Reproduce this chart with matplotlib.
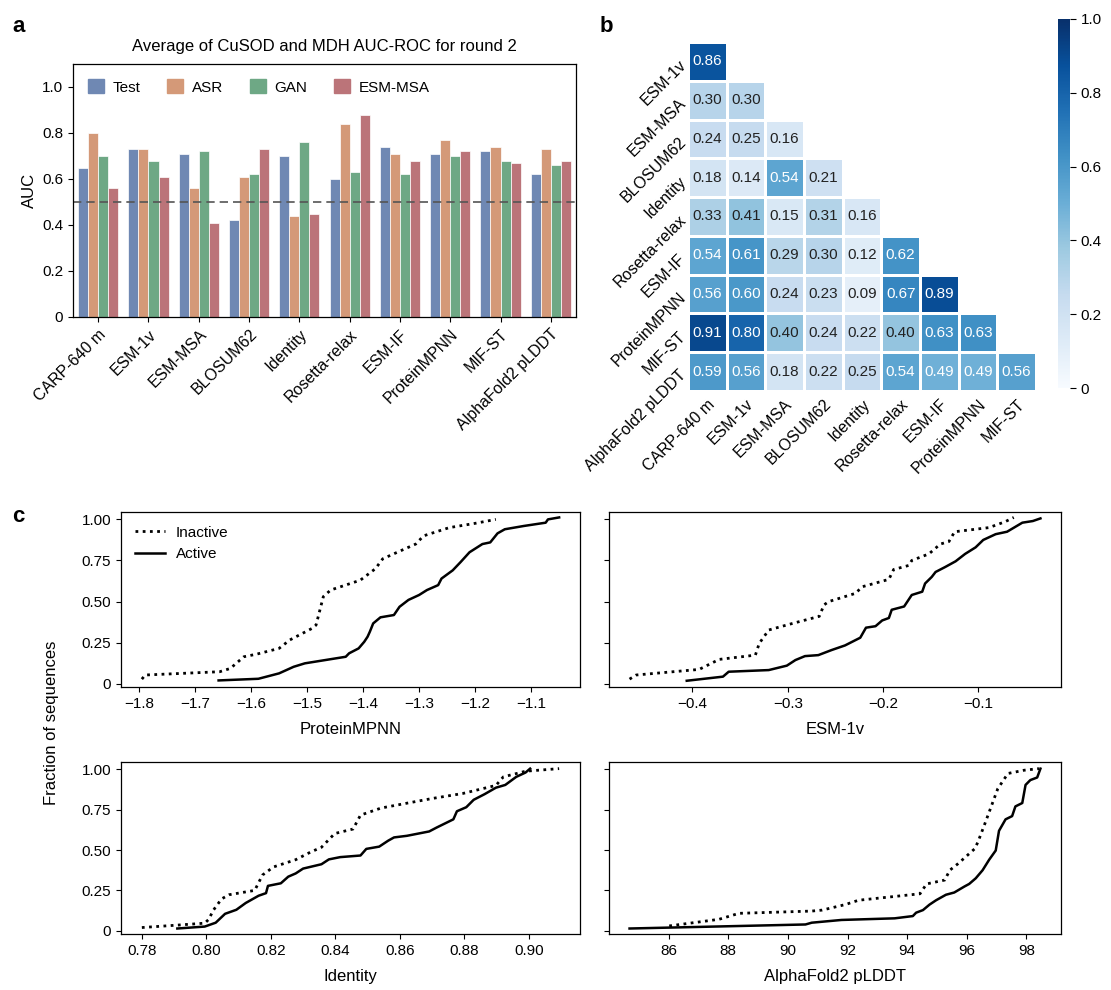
import numpy as np
import matplotlib
matplotlib.use("Agg")
import matplotlib.pyplot as plt
from matplotlib.patches import Patch
from matplotlib.lines import Line2D

plt.rcParams['font.family'] = ['Liberation Sans', 'DejaVu Sans']
plt.rcParams['font.size'] = 11

# ---- panel a data ----
methods = ['CARP-640 m', 'ESM-1v', 'ESM-MSA', 'BLOSUM62', 'Identity', 'Rosetta-relax',
           'ESM-IF', 'ProteinMPNN', 'MIF-ST', 'AlphaFold2 pLDDT']
groups = ['Test', 'ASR', 'GAN', 'ESM-MSA']
auc_test = [0.65, 0.73, 0.71, 0.42, 0.70, 0.60, 0.74, 0.71, 0.72, 0.62]
auc_asr = [0.80, 0.73, 0.56, 0.61, 0.44, 0.84, 0.71, 0.77, 0.74, 0.73]
auc_gan = [0.70, 0.68, 0.72, 0.62, 0.76, 0.63, 0.62, 0.70, 0.68, 0.66]
auc_esmmsa = [0.56, 0.61, 0.41, 0.73, 0.45, 0.88, 0.68, 0.72, 0.67, 0.68]
bar_colors = ['#6f88b3', '#d49978', '#6ea885', '#bb7479']

# ---- panel b data (lower triangle, row i has i values) ----
row_labels = ['ESM-1v', 'ESM-MSA', 'BLOSUM62', 'Identity', 'Rosetta-relax', 'ESM-IF',
              'ProteinMPNN', 'MIF-ST', 'AlphaFold2 pLDDT']
col_labels = ['CARP-640 m', 'ESM-1v', 'ESM-MSA', 'BLOSUM62', 'Identity', 'Rosetta-relax',
              'ESM-IF', 'ProteinMPNN', 'MIF-ST']
corr_rows = [
    [0.86],
    [0.30, 0.30],
    [0.24, 0.25, 0.16],
    [0.18, 0.14, 0.54, 0.21],
    [0.33, 0.41, 0.15, 0.31, 0.16],
    [0.54, 0.61, 0.29, 0.30, 0.12, 0.62],
    [0.56, 0.60, 0.24, 0.23, 0.09, 0.67, 0.89],
    [0.91, 0.80, 0.40, 0.24, 0.22, 0.40, 0.63, 0.63],
    [0.59, 0.56, 0.18, 0.22, 0.25, 0.54, 0.49, 0.49, 0.56],
]

# ---- panel c data ----
mpnn_inactive_x = [-1.795, -1.789, -1.656, -1.637, -1.613, -1.590, -1.550, -1.531, -1.491, -1.484,
                   -1.471, -1.458, -1.405, -1.378, -1.365, -1.339, -1.306, -1.292, -1.246, -1.200, -1.163]
mpnn_inactive_y = [0.028, 0.053, 0.073, 0.093, 0.164, 0.18, 0.215, 0.266, 0.337, 0.357,
                   0.53, 0.57, 0.63, 0.70, 0.76, 0.80, 0.85, 0.90, 0.95, 0.976, 1.0]
mpnn_active_x = [-1.658, -1.587, -1.550, -1.524, -1.504, -1.431, -1.425, -1.408, -1.398, -1.392,
                 -1.388, -1.382, -1.369, -1.345, -1.335, -1.319, -1.300, -1.286, -1.266, -1.260,
                 -1.240, -1.226, -1.210, -1.187, -1.173, -1.160, -1.147, -1.113, -1.074, -1.070, -1.050]
mpnn_active_y = [0.02, 0.03, 0.063, 0.103, 0.124, 0.164, 0.185, 0.215, 0.255, 0.286,
                 0.316, 0.367, 0.404, 0.418, 0.468, 0.51, 0.54, 0.57, 0.60, 0.64,
                 0.69, 0.74, 0.80, 0.85, 0.86, 0.915, 0.94, 0.96, 0.98, 1.0, 1.012]

esm_inactive_x = [-0.466, -0.459, -0.393, -0.372, -0.334, -0.330, -0.320, -0.295, -0.267, -0.262,
                  -0.257, -0.229, -0.222, -0.194, -0.189, -0.173, -0.170, -0.152, -0.140, -0.131,
                  -0.125, -0.089, -0.072, -0.063]
esm_inactive_y = [0.028, 0.053, 0.087, 0.148, 0.174, 0.245, 0.327, 0.367, 0.41, 0.48,
                  0.50, 0.55, 0.59, 0.635, 0.695, 0.72, 0.75, 0.79, 0.85, 0.865,
                  0.925, 0.95, 0.986, 1.012]
esm_active_x = [-0.406, -0.368, -0.362, -0.320, -0.301, -0.292, -0.282, -0.268, -0.254, -0.240,
                -0.224, -0.218, -0.208, -0.201, -0.194, -0.191, -0.178, -0.170, -0.159, -0.156,
                -0.149, -0.145, -0.135, -0.124, -0.114, -0.103, -0.095, -0.082, -0.070, -0.054,
                -0.043, -0.035]
esm_active_y = [0.018, 0.043, 0.073, 0.083, 0.11, 0.144, 0.168, 0.174, 0.205, 0.233,
                0.28, 0.341, 0.35, 0.385, 0.40, 0.45, 0.47, 0.54, 0.56, 0.61,
                0.65, 0.68, 0.71, 0.745, 0.79, 0.83, 0.875, 0.91, 0.925, 0.98,
                0.99, 1.006]

ident_inactive_x = [0.780, 0.791, 0.7995, 0.8007, 0.8022, 0.8047, 0.807, 0.815, 0.8174, 0.8208,
                    0.8277, 0.8323, 0.8357, 0.8398, 0.8455, 0.8478, 0.8542, 0.8622, 0.8703, 0.8795,
                    0.8898, 0.8921, 0.899, 0.9094]
ident_inactive_y = [0.02, 0.035, 0.047, 0.07, 0.128, 0.197, 0.223, 0.25, 0.345, 0.395,
                    0.44, 0.487, 0.517, 0.602, 0.63, 0.716, 0.76, 0.79, 0.82, 0.85,
                    0.90, 0.953, 0.988, 1.004]
ident_active_x = [0.791, 0.7995, 0.8029, 0.8058, 0.8093, 0.8122, 0.8162, 0.8185, 0.8191, 0.8231,
                  0.8254, 0.8277, 0.830, 0.8357, 0.838, 0.8415, 0.8478, 0.8496, 0.8536, 0.8564,
                  0.8582, 0.8622, 0.8691, 0.8714, 0.8766, 0.8777, 0.8806, 0.8829, 0.8863, 0.8898,
                  0.8927, 0.8961, 0.899, 0.9004]
ident_active_y = [0.014, 0.026, 0.05, 0.105, 0.13, 0.172, 0.217, 0.233, 0.278, 0.294,
                  0.335, 0.355, 0.385, 0.412, 0.442, 0.456, 0.466, 0.507, 0.521, 0.558,
                  0.578, 0.588, 0.615, 0.639, 0.69, 0.74, 0.765, 0.811, 0.846, 0.886,
                  0.903, 0.953, 0.98, 1.004]

af2_inactive_x = [86.02, 87.69, 88.36, 90.8, 91.15, 91.92, 92.37, 94.43, 94.65, 95.26,
                  95.43, 95.71, 96.26, 96.37, 96.6, 96.82, 97.04, 97.38, 97.92, 98.42]
af2_inactive_y = [0.03, 0.071, 0.108, 0.122, 0.128, 0.162, 0.189, 0.229, 0.29, 0.314,
                  0.375, 0.416, 0.507, 0.548, 0.66, 0.77, 0.88, 0.974, 0.994, 1.004]
af2_active_x = [84.69, 90.59, 90.8, 91.8, 93.58, 94.19, 94.3, 94.53, 94.75, 94.97,
                95.3, 95.58, 95.92, 96.08, 96.3, 96.53, 96.75, 96.97, 97.08, 97.3,
                97.52, 97.63, 97.86, 97.97, 98.13, 98.36, 98.47]
af2_active_y = [0.014, 0.039, 0.05, 0.067, 0.077, 0.091, 0.112, 0.128, 0.162, 0.189,
                0.223, 0.237, 0.274, 0.29, 0.325, 0.375, 0.44, 0.497, 0.619, 0.69,
                0.71, 0.77, 0.791, 0.903, 0.933, 0.949, 1.004]

W, H = 1111, 990
fig = plt.figure(figsize=(W / 100, H / 100), dpi=100)
dotted = (0, (1, 1.6))


def box(x0, y0, x1, y1):
    # pixel box (top-left origin) -> figure fraction rect
    return [x0 / W, 1 - y1 / H, (x1 - x0) / W, (y1 - y0) / H]


# ================= panel a =================
ax = fig.add_axes(box(73, 64, 576, 317))
x = np.arange(len(methods))
series = [auc_test, auc_asr, auc_gan, auc_esmmsa]
for k, vals in enumerate(series):
    ax.bar(x + (k - 1.5) * 0.2, vals, width=0.2, color=bar_colors[k],
           edgecolor='white', linewidth=0.5)
ax.axhline(0.5, color='#555555', linestyle='--', linewidth=1.2, dashes=(5, 3))
ax.set_xlim(-0.5, len(methods) - 0.5)
ax.set_ylim(0, 1.1)
ax.set_yticks([0, 0.2, 0.4, 0.6, 0.8, 1.0])
ax.set_yticklabels(['0', '0.2', '0.4', '0.6', '0.8', '1.0'])
ax.set_xticks(x)
ax.set_xticklabels(methods, rotation=45, ha='right', rotation_mode='anchor', fontsize=11.5)
ax.set_ylabel('AUC', fontsize=12)
ax.set_title('Average of CuSOD and MDH AUC-ROC for round 2', fontsize=12, pad=9)
handles = [Patch(color=c, label=g) for c, g in zip(bar_colors, groups)]
ax.legend(handles=handles, loc='upper left', ncol=4, frameon=False,
          handlelength=1.05, handleheight=1.05, handletextpad=0.55, columnspacing=1.75,
          bbox_to_anchor=(0.0, 1.0), borderaxespad=0.6)
for s in ax.spines.values():
    s.set_linewidth(0.9)

# ================= panel b =================
n = len(row_labels)
mat = np.full((n, n), np.nan)
for i, row in enumerate(corr_rows):
    mat[i, :len(row)] = row
axh = fig.add_axes(box(688, 42, 1036, 391))
mesh = axh.pcolormesh(np.ma.masked_invalid(mat), cmap='Blues', vmin=0, vmax=1,
                      edgecolors='white', linewidth=2)
axh.set_xlim(0, n)
axh.set_ylim(n, 0)
for i, row in enumerate(corr_rows):
    for j, v in enumerate(row):
        axh.text(j + 0.5, i + 0.5, f'{v:.2f}', ha='center', va='center', fontsize=11,
                 color='white' if v > 0.45 else '#222222')
axh.set_xticks(np.arange(n) + 0.5)
axh.set_xticklabels(col_labels, rotation=45, ha='right', rotation_mode='anchor', fontsize=11.5)
axh.set_yticks(np.arange(n) + 0.5)
axh.set_yticklabels(row_labels, rotation=45, ha='right', rotation_mode='anchor', fontsize=11.5)
axh.tick_params(length=0, pad=4)
for s in axh.spines.values():
    s.set_visible(False)

cax = fig.add_axes(box(1058, 19, 1070, 388))
cb = fig.colorbar(mesh, cax=cax)
cb.outline.set_visible(False)
cb.set_ticks([0, 0.2, 0.4, 0.6, 0.8, 1.0])
cb.set_ticklabels(['0', '0.2', '0.4', '0.6', '0.8', '1.0'])
cax.tick_params(length=4, width=0.8)

# ================= panel c =================
panels = [
    (box(121, 512, 580, 687), 'ProteinMPNN', mpnn_inactive_x, mpnn_inactive_y, mpnn_active_x, mpnn_active_y),
    (box(609, 512, 1061, 687), 'ESM-1v', esm_inactive_x, esm_inactive_y, esm_active_x, esm_active_y),
    (box(121, 762, 580, 934), 'Identity', ident_inactive_x, ident_inactive_y, ident_active_x, ident_active_y),
    (box(609, 762, 1061, 934), 'AlphaFold2 pLDDT', af2_inactive_x, af2_inactive_y, af2_active_x, af2_active_y),
]
c_axes = []
for k, (rect, name, xi, yi, xa, ya) in enumerate(panels):
    a = fig.add_axes(rect)
    a.plot(xi, yi, color='black', linestyle=dotted, linewidth=2, label='Inactive')
    a.plot(xa, ya, color='black', linestyle='-', linewidth=1.8, label='Active')
    a.set_ylim(-0.02, 1.045)
    a.set_yticks([0, 0.25, 0.5, 0.75, 1.0])
    if k % 2 == 0:
        a.set_yticklabels(['0', '0.25', '0.50', '0.75', '1.00'])
    else:
        a.set_yticklabels([])
    a.set_xlabel(name, fontsize=12, labelpad=8)
    for s in a.spines.values():
        s.set_linewidth(0.9)
    c_axes.append(a)

c_axes[0].set_xticks([-1.8, -1.7, -1.6, -1.5, -1.4, -1.3, -1.2, -1.1])
c_axes[1].set_xticks([-0.4, -0.3, -0.2, -0.1])
c_axes[2].set_xticks([0.78, 0.80, 0.82, 0.84, 0.86, 0.88, 0.90])
c_axes[2].set_xticklabels(['0.78', '0.80', '0.82', '0.84', '0.86', '0.88', '0.90'])
c_axes[3].set_xticks([86, 88, 90, 92, 94, 96, 98])
c_axes[0].legend(handles=[Line2D([], [], color='black', linestyle=dotted, linewidth=2),
                          Line2D([], [], color='black', linewidth=1.8)],
                 labels=['Inactive', 'Active'], loc='upper left', frameon=False,
                 handlelength=2.0, handletextpad=0.7, fontsize=11)

fig.text(0.046, 1 - 723 / H, 'Fraction of sequences', rotation=90, ha='center', va='center', fontsize=12)

# panel letters
fig.text(12 / W, 1 - 26 / H, 'a', fontsize=16, fontweight='bold', va='center')
fig.text(600 / W, 1 - 26 / H, 'b', fontsize=16, fontweight='bold', va='center')
fig.text(12 / W, 1 - 516 / H, 'c', fontsize=16, fontweight='bold', va='center')

fig.savefig('out.png', dpi=100)
